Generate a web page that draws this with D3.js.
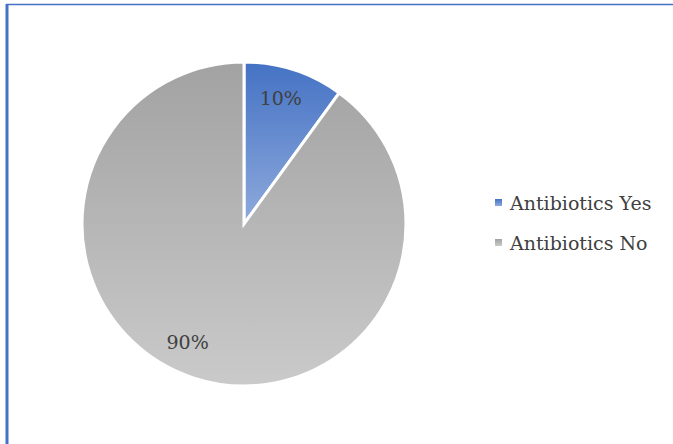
<!DOCTYPE html>
<html lang="en">
<head>
    <meta charset="UTF-8">
    <title>Antibiotics</title>
    <script src="https://d3js.org/d3.v7.min.js"></script>
    <style>
        body { margin: 0; background: #fff; }
        text { font-family: "DejaVu Serif", serif; fill: #404040; }
    </style>
</head>
<body>
    <div id="chart"></div>
    <script>
        // chart data
        const categories = ["Antibiotics Yes", "Antibiotics No"];
        const values = [10, 90];
        const labels = ["10%", "90%"];

        const width = 673, height = 444;
        const cx = 244, cy = 224, radius = 162;

        const svg = d3.select("#chart").append("svg")
            .attr("width", width)
            .attr("height", height);

        // frame lines
        svg.append("line").attr("x1", 6).attr("x2", width).attr("y1", 4.5).attr("y2", 4.5)
            .attr("stroke", "#4472C4").attr("stroke-width", 1.5);
        svg.append("line").attr("x1", 7).attr("x2", 7).attr("y1", 4).attr("y2", height)
            .attr("stroke", "#4472C4").attr("stroke-width", 3);

        // gradients
        const defs = svg.append("defs");
        const grads = [["#4472C4", "#8FAADC"], ["#A2A2A2", "#CACACA"]];
        grads.forEach((g, i) => {
            const lg = defs.append("linearGradient")
                .attr("id", "grad" + i)
                .attr("x1", 0).attr("y1", 0).attr("x2", 0).attr("y2", 1);
            lg.append("stop").attr("offset", "0%").attr("stop-color", g[0]);
            lg.append("stop").attr("offset", "100%").attr("stop-color", g[1]);
        });

        const pie = d3.pie().sort(null).value(d => d);
        const arc = d3.arc().innerRadius(0).outerRadius(radius);

        const g = svg.append("g").attr("transform", `translate(${cx},${cy})`);
        const arcs = pie(values);

        g.selectAll("path")
            .data(arcs)
            .enter()
            .append("path")
            .attr("d", arc)
            .attr("fill", (d, i) => `url(#grad${i})`)
            .attr("stroke", "white")
            .style("stroke-width", "3px");

        // data labels - big slice label sits a bit further round like excel does
        const labelR = radius * 0.81;
        g.selectAll(".lbl")
            .data(arcs)
            .enter()
            .append("text")
            .attr("class", "lbl")
            .attr("transform", (d, i) => {
                let a = (d.startAngle + d.endAngle) / 2;
                if (i === 1) a += 0.13;
                else a -= 0.03;
                return `translate(${labelR * Math.sin(a)},${-labelR * Math.cos(a)})`;
            })
            .attr("text-anchor", "middle")
            .attr("dy", "0.35em")
            .style("font-size", "19px")
            .text((d, i) => labels[i]);

        // legend
        const legend = svg.append("g").attr("transform", "translate(495,203)");
        const item = legend.selectAll("g")
            .data(categories)
            .enter()
            .append("g")
            .attr("transform", (d, i) => `translate(0,${i * 40})`);
        item.append("rect")
            .attr("x", 0).attr("y", -4)
            .attr("width", 7).attr("height", 7)
            .attr("fill", (d, i) => `url(#grad${i})`);
        item.append("text")
            .attr("x", 15)
            .attr("dy", "0.35em")
            .style("font-size", "19px")
            .text(d => d);
    </script>
</body>
</html>
